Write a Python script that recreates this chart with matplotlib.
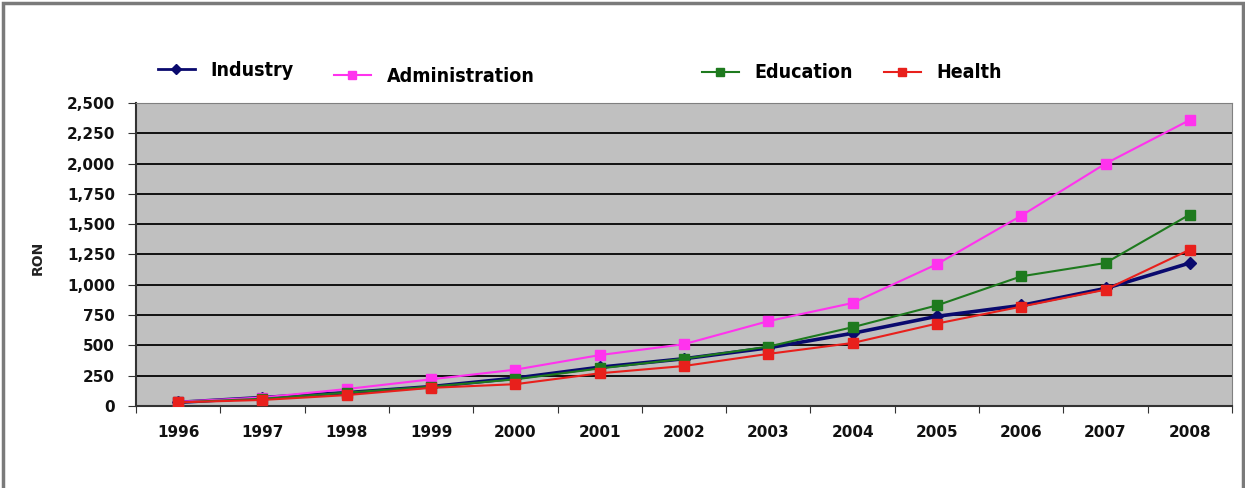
import numpy as np
import matplotlib.pyplot as plt
from matplotlib.lines import Line2D
from matplotlib.patches import Rectangle
from matplotlib.ticker import FuncFormatter
from matplotlib import font_manager

years = ["1996", "1997", "1998", "1999", "2000", "2001", "2002",
         "2003", "2004", "2005", "2006", "2007", "2008"]
industry = [30, 70, 110, 160, 230, 320, 390, 480, 600, 740, 830, 970, 1180]
administration = [35, 70, 140, 220, 300, 420, 510, 700, 850, 1170, 1570, 2000, 2360]
education = [30, 60, 110, 160, 220, 310, 390, 490, 650, 830, 1070, 1180, 1580]
health = [30, 50, 90, 150, 180, 270, 330, 430, 520, 680, 820, 960, 1290]

series = [
    ("Industry", industry, "#0a0a6e", "D", 2.6, 6),
    ("Administration", administration, "#ff33ee", "s", 1.5, 7),
    ("Education", education, "#1e7a1e", "s", 1.5, 7),
    ("Health", health, "#e8201c", "s", 1.5, 7),
]

fig = plt.figure(figsize=(12.45, 4.88), dpi=100)
ax = fig.add_axes([136 / 1245, 82 / 488, 1096 / 1245, 303 / 488])
ax.set_facecolor("#c0c0c0")

x = np.arange(len(years))
for name, vals, col, mk, lw, ms in series:
    ax.plot(x, vals, color=col, marker=mk, lw=lw, ms=ms, mec=col, mfc=col, zorder=3)

ax.set_xlim(-0.5, len(years) - 0.5)
ax.set_ylim(0, 2500)
ax.set_yticks(np.arange(0, 2501, 250))
ax.yaxis.set_major_formatter(FuncFormatter(lambda v, p: f"{int(v):,}"))
ax.grid(axis="y", color="#111111", lw=1.4, zorder=1)
ax.set_axisbelow(True)

ax.set_xticks(np.arange(-0.5, len(years), 1.0))
ax.set_xticklabels([])
ax.set_xticks(x, minor=True)
ax.set_xticklabels(years, minor=True)
ax.tick_params(axis="x", which="minor", length=0, pad=14)
ax.tick_params(axis="x", which="major", length=5, direction="out", color="#333333")
ax.tick_params(axis="y", length=6, direction="out", color="#333333", pad=9)
for lab in ax.get_xticklabels(minor=True) + ax.get_yticklabels():
    lab.set_fontweight("bold")
    lab.set_fontsize(11)
    lab.set_color("#111111")

ax.spines["left"].set_color("#333333")
ax.spines["bottom"].set_color("#333333")
ax.spines["left"].set_linewidth(1.5)
ax.spines["bottom"].set_linewidth(1.5)
ax.spines["top"].set_color("#808080")
ax.spines["right"].set_color("#808080")

fig.text(38 / 1245, 1 - 258 / 488, "RON", rotation=90, ha="center", va="center",
         fontsize=10, fontweight="bold", color="#222222")

# legend entries placed individually across the top, in a condensed bold face
leg_font = font_manager.FontProperties(family="DejaVu Sans", stretch="condensed",
                                       weight="bold", size=14)
legend_pos = [(158, 70), (334, 76), (702, 73), (884, 73)]
for (name, vals, col, mk, lw, ms), (px, py) in zip(series, legend_pos):
    h = Line2D([], [], color=col, marker=mk, lw=2 if mk == "D" else 1.5,
               ms=5 if mk == "D" else 6, mec=col, mfc=col)
    fig.legend([h], [name], loc="center left",
               bbox_to_anchor=(px / 1245, 1 - py / 488),
               frameon=False, handlelength=1.9, handletextpad=0.8,
               borderaxespad=0, borderpad=0, prop=leg_font)

fig.patches.append(Rectangle((3 / 1245, -0.1), 1240 / 1245, 1.1 - 3 / 488,
                             transform=fig.transFigure, fill=False,
                             edgecolor="#7a7a7a", lw=2.5))

fig.savefig("out.png", dpi=100)
